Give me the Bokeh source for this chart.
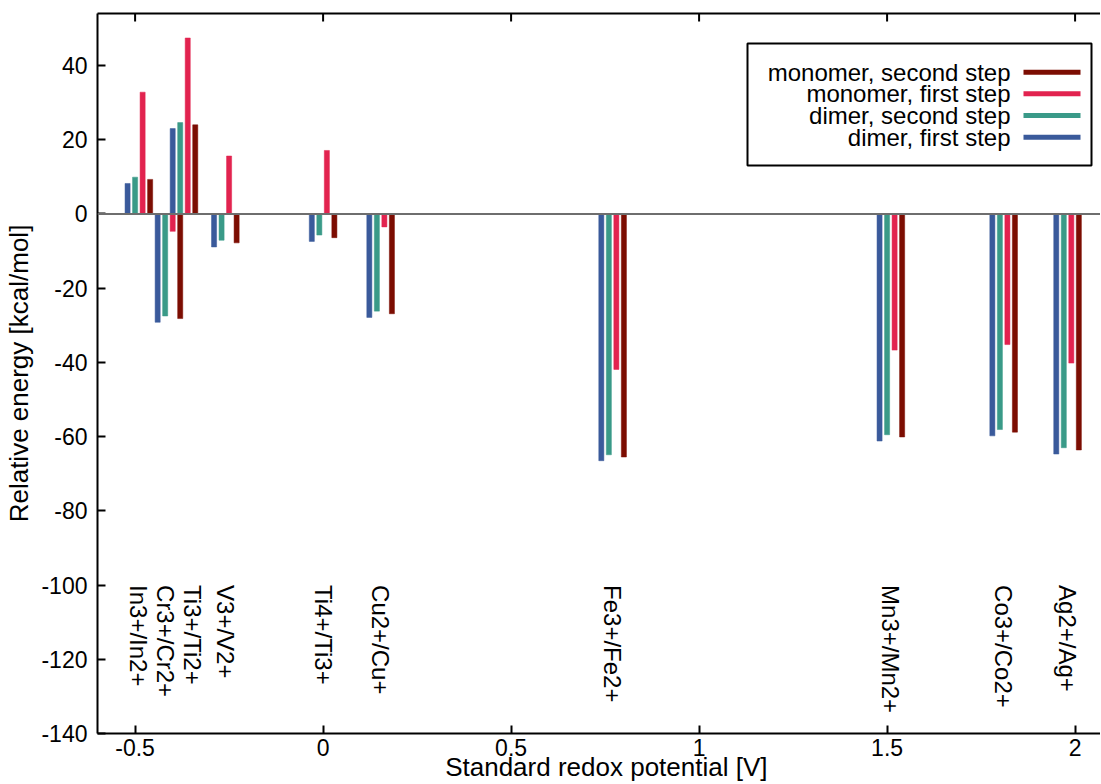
import numpy as np
from bokeh.plotting import figure
from bokeh.models import (Range1d, LinearAxis, FixedTicker, Span, Label, BoxAnnotation,
                          ColumnDataSource, Title)
from bokeh.embed import file_html
from bokeh.resources import INLINE
from bokeh.core.properties import value

# ---------------- data ----------------
couples = ["In3+/In2+", "Cr3+/Cr2+", "Ti3+/Ti2+", "V3+/V2+", "Ti4+/Ti3+",
           "Cu2+/Cu+", "Fe3+/Fe2+", "Mn3+/Mn2+", "Co3+/Co2+", "Ag2+/Ag+"]
potentials = [-0.49, -0.41, -0.37, -0.26, 0.0, 0.153, 0.77, 1.51, 1.81, 1.98]

dimer_first = [8.2, -29.2, 23.0, -8.9, -7.4, -27.9, -66.5, -61.2, -59.8, -64.7]
dimer_second = [9.9, -27.5, 24.6, -7.1, -5.7, -26.2, -64.9, -59.5, -58.1, -63.0]
monomer_first = [32.8, -4.7, 47.4, 15.6, 17.1, -3.5, -41.9, -36.7, -35.2, -40.2]
monomer_second = [9.3, -28.2, 24.0, -7.8, -6.4, -26.9, -65.5, -60.1, -58.8, -63.6]

series_names = ["dimer, first step", "dimer, second step",
                "monomer, first step", "monomer, second step"]
series_values = [dimer_first, dimer_second, monomer_first, monomer_second]

x_ticks = [-0.5, 0, 0.5, 1, 1.5, 2]
x_tick_labels = ["-0.5", "0", "0.5", "1", "1.5", "2"]
y_ticks = [-140, -120, -100, -80, -60, -40, -20, 0, 20, 40]
y_tick_labels = ["-140", "-120", "-100", "-80", "-60", "-40", "-20", "0", "20", "40"]

x_title = "Standard redox potential [V]"
y_title = "Relative energy [kcal/mol]"

# ---------------- style ----------------
FONT = "Liberation Sans"
FS_TICK = "23px"
FS_LEG = "24px"
FS_LAB = "24px"
FS_TITLE = "26px"
colors = ["#3a5a9b", "#3a9a88", "#e2234f", "#7c0d02"]
offsets = [-0.03, -0.01, 0.01, 0.03]
bar_width = 0.0135
label_nudge = {"Cr3+/Cr2+": -0.01, "Ti3+/Ti2+": 0.022}
label_y = -100
tick_len_px = 8

W, H = 1100, 784
ML, MR, MT, MB = 97, 0, 13, 51
X0, X1 = -0.6, 2.0676
Y0, Y1 = -140, 54
frame_w = W - ML - MR
frame_h = H - MT - MB

def px2x(px):  # canvas pixel -> data x
    return X0 + (px - ML) / frame_w * (X1 - X0)

def px2y(py):  # canvas pixel -> data y
    return Y1 - (py - MT) / frame_h * (Y1 - Y0)

p = figure(width=W, height=H, x_range=Range1d(X0, X1), y_range=Range1d(Y0, Y1),
           output_backend="svg", toolbar_location=None,
           min_border_left=ML, min_border_right=MR, min_border_top=MT, min_border_bottom=MB)
p.grid.visible = False
p.outline_line_color = None
p.background_fill_color = "white"
p.border_fill_color = "white"

# axes
xa = p.xaxis[0]
ya = p.yaxis[0]
xa.ticker = FixedTicker(ticks=x_ticks)
xa.major_label_overrides = {t: l for t, l in zip(x_ticks, x_tick_labels)}
ya.ticker = FixedTicker(ticks=y_ticks)
ya.major_label_overrides = {t: l for t, l in zip(y_ticks, y_tick_labels)}
top_ax = LinearAxis(ticker=FixedTicker(ticks=[]))
p.add_layout(top_ax, "above")
for ax in (xa, ya, top_ax):
    ax.axis_line_width = 2
    ax.axis_line_color = "black"
    ax.major_tick_in = tick_len_px
    ax.major_tick_out = 0
    ax.major_tick_line_width = 2
    ax.major_tick_line_color = "black"
    ax.minor_tick_in = 0
    ax.minor_tick_out = 0
    ax.major_label_text_font = FONT
    ax.major_label_text_color = "black"
xa.major_label_text_font_size = FS_TICK
ya.major_label_text_font_size = FS_TICK
xa.major_label_standoff = 5
ya.major_label_standoff = 10
ya.axis_label = y_title
ya.axis_label_text_font = FONT
ya.axis_label_text_font_size = FS_TITLE
ya.axis_label_text_font_style = "normal"
ya.axis_label_text_color = "black"
ya.axis_label_standoff = 4

# x title: the reference centres it on its (wider, cropped) frame, so right-align it
p.add_layout(Title(text=x_title, align="right", offset=W - MR - 767, standoff=-14,
                   vertical_align="top", text_font=FONT, text_font_size=FS_TITLE,
                   text_font_style="normal", text_color="black"), "below")

# top tick marks (mirror of the bottom axis)
tick_dy = tick_len_px / frame_h * (Y1 - Y0)
p.segment(x0=x_ticks, x1=x_ticks, y0=[Y1] * len(x_ticks), y1=[Y1 - tick_dy] * len(x_ticks),
          line_color="black", line_width=2)

# zero line
p.add_layout(Span(location=0, dimension="width", line_color="#6e6e6e", line_width=2))

# bars
for name, vals, col, off in zip(series_names, series_values, colors, offsets):
    src = ColumnDataSource(dict(x=np.array(potentials) + off, top=vals))
    p.vbar(x="x", top="top", bottom=0, width=bar_width, source=src,
           fill_color=col, line_color=col, line_width=0.5)

# couple labels (rotated)
lab_x = [pt + label_nudge.get(c, 0.0) for c, pt in zip(couples, potentials)]
p.text(x=lab_x, y=[label_y] * len(couples), text=couples, angle=-np.pi / 2,
       text_align="left", text_baseline="middle", text_font=value(FONT),
       text_font_size=FS_LAB, text_color="black")

# legend (label on the left, sample on the right, as in the reference)
p.add_layout(BoxAnnotation(left=px2x(747), right=px2x(1091), top=px2y(43), bottom=px2y(165),
                           fill_color=None, line_color="black", line_alpha=1.0, line_width=2))
row_px = [71.7, 93.3, 115.0, 136.7]
for i, (name, col) in enumerate(zip(series_names[::-1], colors[::-1])):
    yy = px2y(row_px[i])
    p.add_layout(Label(x=px2x(1010), y=yy, text=name, text_align="right",
                       text_baseline="middle", text_font=FONT, text_font_size=FS_LEG,
                       text_color="black"))
    p.segment(x0=[px2x(1023)], x1=[px2x(1080)], y0=[yy], y1=[yy], line_color=col,
              line_width=5)

open("out.html", "w").write(file_html(p, INLINE))
